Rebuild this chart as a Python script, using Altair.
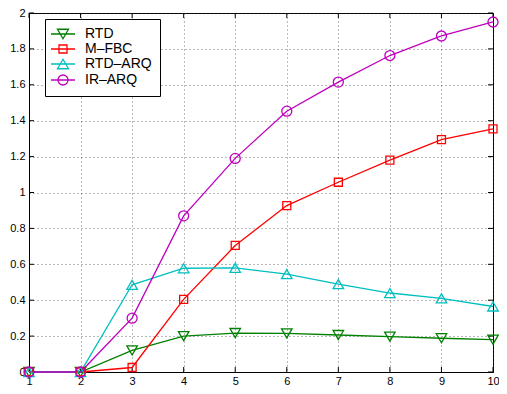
import altair as alt
import pandas as pd

# ---- data ----
x_vals = [1, 2, 3, 4, 5, 6, 7, 8, 9, 10]
series_names = ["RTD", "M–FBC", "RTD–ARQ", "IR–ARQ"]
rtd = [0, 0, 0.12, 0.20, 0.217, 0.215, 0.206, 0.197, 0.188, 0.18]
mfbc = [0, 0, 0.025, 0.405, 0.705, 0.927, 1.057, 1.18, 1.295, 1.355]
rtd_arq = [0, 0, 0.486, 0.578, 0.58, 0.545, 0.49, 0.44, 0.41, 0.365]
ir_arq = [0, 0, 0.30, 0.87, 1.19, 1.453, 1.615, 1.763, 1.872, 1.95]
x_ticks = [1, 2, 3, 4, 5, 6, 7, 8, 9, 10]
y_ticks = [0, 0.2, 0.4, 0.6, 0.8, 1.0, 1.2, 1.4, 1.6, 1.8, 2.0]

colors = ["#008000", "#ff0000", "#00bfbf", "#bf00bf"]
shapes = ["triangle-down", "square", "triangle-up", "circle"]
sizes = [110, 64, 110, 100]
line_path = "M-2.4,0H2.4"
legend_paths = [
    line_path + "M-1.1,-0.95L1.1,-0.95L0,0.95Z",
    line_path + "M-0.8,-0.8H0.8V0.8H-0.8Z",
    line_path + "M-1.1,0.95L1.1,0.95L0,-0.95Z",
    line_path + "M-1,0A1,1 0 1,0 1,0A1,1 0 1,0 -1,0Z",
]

rows = []
for name, vals in zip(series_names, [rtd, mfbc, rtd_arq, ir_arq]):
    for xv, v in zip(x_vals, vals):
        rows.append({"x": xv, "value": v, "series": name})
df = pd.DataFrame(rows)
xt = pd.DataFrame({"t": x_ticks})
yt = pd.DataFrame({"t": y_ticks})

W, H = 464, 359
FONT = "Liberation Sans"

xscale = alt.Scale(domain=[1, 10], nice=False, zero=False)
yscale = alt.Scale(domain=[0, 2], nice=False)
xaxis = alt.Axis(values=x_ticks, title=None, tickSize=0, labelPadding=3, grid=True,
                 gridDash=[1, 3], gridColor="#333", gridOpacity=0.7, format="d",
                 labelFlush=False)
yaxis = alt.Axis(values=y_ticks, title=None, tickSize=0, labelPadding=4, grid=True,
                 gridDash=[1, 3], gridColor="#333", gridOpacity=0.7, format="~g",
                 labelFlush=False)


def X(f):
    return alt.X(f, type="quantitative", scale=xscale, axis=xaxis)


def Y(f):
    return alt.Y(f, type="quantitative", scale=yscale, axis=yaxis)


leg = alt.Legend(
    title=None, orient="none", legendX=16, legendY=6,
    strokeColor="black", fillColor="white", padding=8,
    labelFont=FONT, labelFontSize=14, labelColor="black",
    symbolSize=100, symbolStrokeWidth=1.3, symbolOffset=3, labelOffset=15,
    symbolOpacity=1, rowPadding=0,
)

cscale = alt.Scale(domain=series_names, range=colors)
base = alt.Chart(df)

lines = base.mark_line(strokeWidth=1.3).encode(
    x=X("x"), y=Y("value"),
    color=alt.Color("series:N", scale=cscale, legend=leg),
)

point_layers = []
for name, c, s, sz in zip(series_names, colors, shapes, sizes):
    point_layers.append(
        base.transform_filter(alt.datum.series == name)
        .mark_point(shape=s, size=sz, filled=False, strokeWidth=1.3, color=c, opacity=1)
        .encode(x=X("x"), y=Y("value"))
    )

# hidden layer (points placed below the clipped view) that only carries the legend symbols
legend_layer = base.transform_calculate(hidden="-1").mark_point(
    filled=False, size=100, strokeWidth=1.3, clip=True, opacity=1
).encode(
    x=X("x"), y=Y("hidden"),
    color=alt.Color("series:N", scale=cscale, legend=leg),
    shape=alt.Shape("series:N", scale=alt.Scale(domain=series_names, range=legend_paths), legend=leg),
)

tick_style = dict(color="black", strokeWidth=1)
bottom_ticks = alt.Chart(xt).mark_rule(**tick_style).encode(
    x=X("t"), y=alt.value(H), y2=alt.value(H - 5))
top_ticks = alt.Chart(xt).mark_rule(**tick_style).encode(
    x=X("t"), y=alt.value(0), y2=alt.value(5))
left_ticks = alt.Chart(yt).mark_rule(**tick_style).encode(
    y=Y("t"), x=alt.value(0), x2=alt.value(5))
right_ticks = alt.Chart(yt).mark_rule(**tick_style).encode(
    y=Y("t"), x=alt.value(W), x2=alt.value(W - 5))

chart = alt.layer(
    bottom_ticks, top_ticks, left_ticks, right_ticks,
    lines, *point_layers, legend_layer,
).properties(
    width=W, height=H,
    autosize="none",
    background="white",
    padding={"left": 21, "top": 5, "right": 6, "bottom": 14},
).configure_view(
    stroke="black", strokeWidth=1
).configure_axis(
    domainColor="black", domainWidth=1,
    labelFont=FONT, labelFontSize=11, labelColor="black",
)

chart.save("out.html", embed_options={"renderer": "svg", "actions": False})
